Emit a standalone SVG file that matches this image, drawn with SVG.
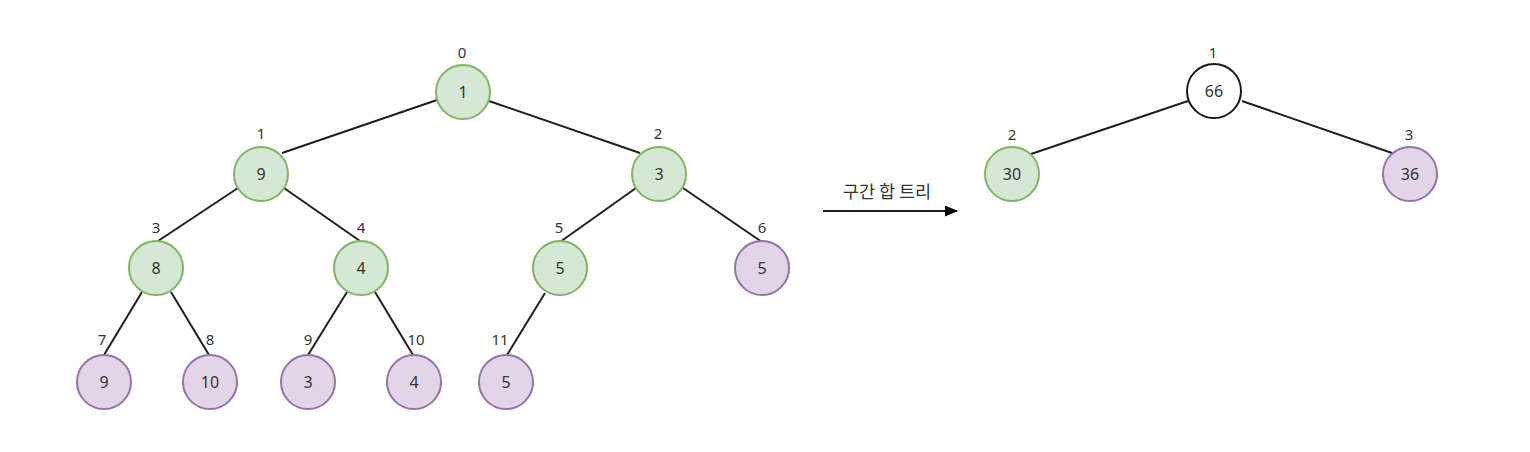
<svg xmlns="http://www.w3.org/2000/svg" width="1530" height="452" viewBox="0 0 1530 452">
<style>
.g{fill:#d5e8d4;stroke:#82b366;stroke-width:2}
.p{fill:#e1d5e7;stroke:#9673a6;stroke-width:2}
.w{fill:#ffffff;stroke:#1a1a1a;stroke-width:2}
.v{font-family:"Noto Sans","Liberation Sans",sans-serif;font-size:16px;fill:#333333;text-anchor:middle}
.i{font-family:"Noto Sans","Liberation Sans",sans-serif;font-size:15px;fill:#333333;text-anchor:middle}
.e line{stroke:#1f1f1f;stroke-width:2}
</style>
<defs>
<marker id="ah" markerWidth="13" markerHeight="11" refX="12" refY="5.5" orient="auto" markerUnits="userSpaceOnUse">
<path d="M0,0 L13,5.5 L0,11 Z" fill="#000000"/>
</marker>
</defs>
<rect width="1530" height="452" fill="#ffffff"/>
<g id="connectors" class="e">
<line x1="437" y1="100" x2="282" y2="153"/>
<line x1="489" y1="101" x2="640" y2="153"/>
<line x1="238" y1="188" x2="158" y2="241"/>
<line x1="284" y1="188" x2="360" y2="241"/>
<line x1="636" y1="188" x2="560" y2="242"/>
<line x1="683" y1="188" x2="762" y2="242"/>
<line x1="142" y1="292" x2="104" y2="355"/>
<line x1="171" y1="292" x2="209" y2="355"/>
<line x1="347" y1="292" x2="308" y2="355"/>
<line x1="375" y1="292" x2="413" y2="355"/>
<line x1="545" y1="293" x2="507" y2="355"/>
<line x1="1188" y1="101" x2="1031" y2="154"/>
<line x1="1242" y1="101" x2="1392" y2="153"/>
<line x1="823" y1="211" x2="957" y2="211" stroke="#000000" marker-end="url(#ah)"/>
</g>
<g id="arrow-label"><text x="887" y="198" font-family="'Noto Sans CJK KR',sans-serif" font-size="17.5" fill="#333333" text-anchor="middle">구간 합 트리</text></g>
<g id="n0"><circle class="g" cx="463" cy="92" r="27"/><text class="v" x="463" y="98">1</text><text class="i" x="462" y="58">0</text></g>
<g id="n1"><circle class="g" cx="261" cy="174" r="27"/><text class="v" x="261" y="180">9</text><text class="i" x="261" y="139">1</text></g>
<g id="n2"><circle class="g" cx="659" cy="174" r="27"/><text class="v" x="659" y="180">3</text><text class="i" x="658" y="139">2</text></g>
<g id="n3"><circle class="g" cx="156" cy="268" r="27"/><text class="v" x="156" y="274">8</text><text class="i" x="156" y="233">3</text></g>
<g id="n4"><circle class="g" cx="361" cy="268" r="27"/><text class="v" x="361" y="274">4</text><text class="i" x="361" y="233">4</text></g>
<g id="n5"><circle class="g" cx="560" cy="268" r="27"/><text class="v" x="560" y="274">5</text><text class="i" x="559" y="233">5</text></g>
<g id="n6"><circle class="p" cx="762" cy="268" r="27"/><text class="v" x="762" y="274">5</text><text class="i" x="762" y="233">6</text></g>
<g id="n7"><circle class="p" cx="104" cy="382" r="27"/><text class="v" x="104" y="388">9</text><text class="i" x="102" y="345">7</text></g>
<g id="n8"><circle class="p" cx="210" cy="382" r="27"/><text class="v" x="210" y="388">10</text><text class="i" x="210" y="345">8</text></g>
<g id="n9"><circle class="p" cx="308" cy="382" r="27"/><text class="v" x="308" y="388">3</text><text class="i" x="308" y="345">9</text></g>
<g id="n10"><circle class="p" cx="414" cy="382" r="27"/><text class="v" x="414" y="388">4</text><text class="i" x="416" y="345">10</text></g>
<g id="n11"><circle class="p" cx="506" cy="382" r="27"/><text class="v" x="506" y="388">5</text><text class="i" x="500" y="345">11</text></g>
<g id="s1"><circle class="w" cx="1214" cy="91" r="27"/><text class="v" x="1214" y="97">66</text><text class="i" x="1213" y="58">1</text></g>
<g id="s2"><circle class="g" cx="1012" cy="174" r="27"/><text class="v" x="1012" y="180">30</text><text class="i" x="1012" y="140">2</text></g>
<g id="s3"><circle class="p" cx="1410" cy="174" r="27"/><text class="v" x="1410" y="180">36</text><text class="i" x="1409" y="140">3</text></g>
</svg>
